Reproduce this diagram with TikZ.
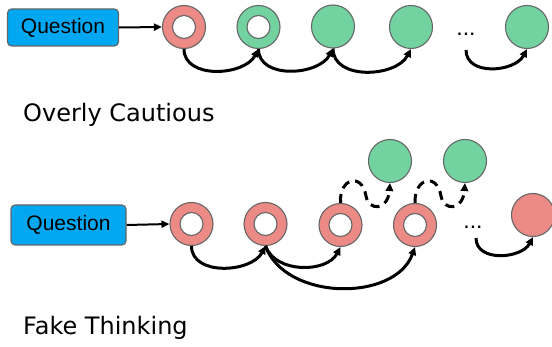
\documentclass[tikz,border=0pt]{standalone}
\usepackage{fontspec}
\setmainfont{Liberation Sans}
\newfontfamily\titlefont{DejaVu Sans}
\usetikzlibrary{arrows.meta}
\definecolor{salmon}{HTML}{EC8A85}
\definecolor{mint}{HTML}{72D3A0}
\definecolor{qblue}{HTML}{02A7F2}
\definecolor{edgegray}{HTML}{666666}
\tikzset{
  ball/.style={circle, draw=edgegray, line width=1.1pt, minimum size=43pt, inner sep=0pt},
  ring/.style={ball, fill=salmon},
  greenring/.style={ball, fill=mint},
  hole/.style={circle, draw=edgegray, line width=1.1pt, fill=white, minimum size=23pt, inner sep=0pt},
  qbox/.style={draw=edgegray, line width=1.1pt, fill=qblue, rounded corners=4pt, inner sep=0pt, font=\fontsize{21}{24}\selectfont},
  flow/.style={line width=3pt, -{Triangle[length=8pt,width=7.5pt]}},
  dflow/.style={line width=3pt, dash pattern=on 9pt off 6pt, -{Triangle[length=8pt,width=7.5pt]}},
  feed/.style={line width=2pt, -{Triangle[length=8pt,width=7pt]}},
  title/.style={anchor=base west, inner sep=0pt, font=\titlefont\fontsize{24}{28}\selectfont},
  dots/.style={inner sep=0pt, font=\fontsize{23}{24}\selectfont}
}
\begin{document}
\begin{tikzpicture}[x=1pt,y=-1pt]
\useasboundingbox (0,0) rectangle (552,347);
% ---- Overly Cautious ----
\node[qbox, minimum width=111pt, minimum height=37pt] (q1) at (63,27.5) {Question};
\node[ring] (a1) at (184,27) {};
\node[hole] (a1h) at (a1) {};
\node[greenring] (a2) at (258.5,27) {};
\node[hole] (a2h) at (a2) {};
\node[ball, fill=mint] (a3) at (333,26.5) {};
\node[ball, fill=mint] (a4) at (411,27) {};
\node[dots, anchor=base] (ad) at (466,36) {...};
\coordinate (adc) at (466,50);
\node[ball, fill=mint] (a5) at (527,27) {};
\draw[feed] (q1.east) -- (a1.west);
\draw[flow] (a1.south) to[out=-90,in=-118,looseness=1.05] (a2.south);
\draw[flow] (a2.south) to[out=-90,in=-118,looseness=1.05] (a3.south);
\draw[flow] (a3.south) to[out=-90,in=-118,looseness=1.05] (a4.south);
\draw[flow] (adc) to[out=-90,in=-118,looseness=1.1] (a5.south);
\node[title] (t1) at (23,122) {Overly Cautious};
% ---- Fake Thinking ----
\node[qbox, minimum width=115pt, minimum height=40pt] (q2) at (68.5,225) {Question};
\node[ring] (b1) at (191.5,224) {};
\node[hole] (b1h) at (b1) {};
\node[ring] (b2) at (265.5,224) {};
\node[hole] (b2h) at (b2) {};
\node[ring] (b3) at (340.5,225) {};
\node[hole] (b3h) at (b3) {};
\node[ring] (b4) at (415,225) {};
\node[hole] (b4h) at (b4) {};
\node[dots, anchor=base] (bd) at (473,229) {...};
\coordinate (bdc) at (476,238);
\node[ball, fill=salmon] (b5) at (533,215) {};
\node[ball, fill=mint] (g1) at (390,161) {};
\node[ball, fill=mint] (g2) at (465,161) {};
\draw[feed] (q2.east) -- (b1.west);
\draw[flow] (b1.south) to[out=-90,in=-118,looseness=1.05] (b2.south);
\draw[flow] (b2.south) to[out=-70,in=-118,looseness=1.0] (b3.south);
\draw[flow] (b2.south) to[out=-70,in=-110,looseness=1.0] (b4.south);
\draw[flow] (bdc) to[out=-90,in=-118,looseness=1.1] (b5.south);
\draw[dflow] (b3.north) .. controls (339,178) and (362,172) .. (366,196)
  .. controls (369,212) and (388,210) .. (g1.south);
\draw[dflow] (b4.north) .. controls (414,178) and (437,172) .. (441,196)
  .. controls (444,212) and (463,210) .. (g2.south);
\node[title] (t2) at (23,335) {Fake Thinking};
\end{tikzpicture}
\end{document}
